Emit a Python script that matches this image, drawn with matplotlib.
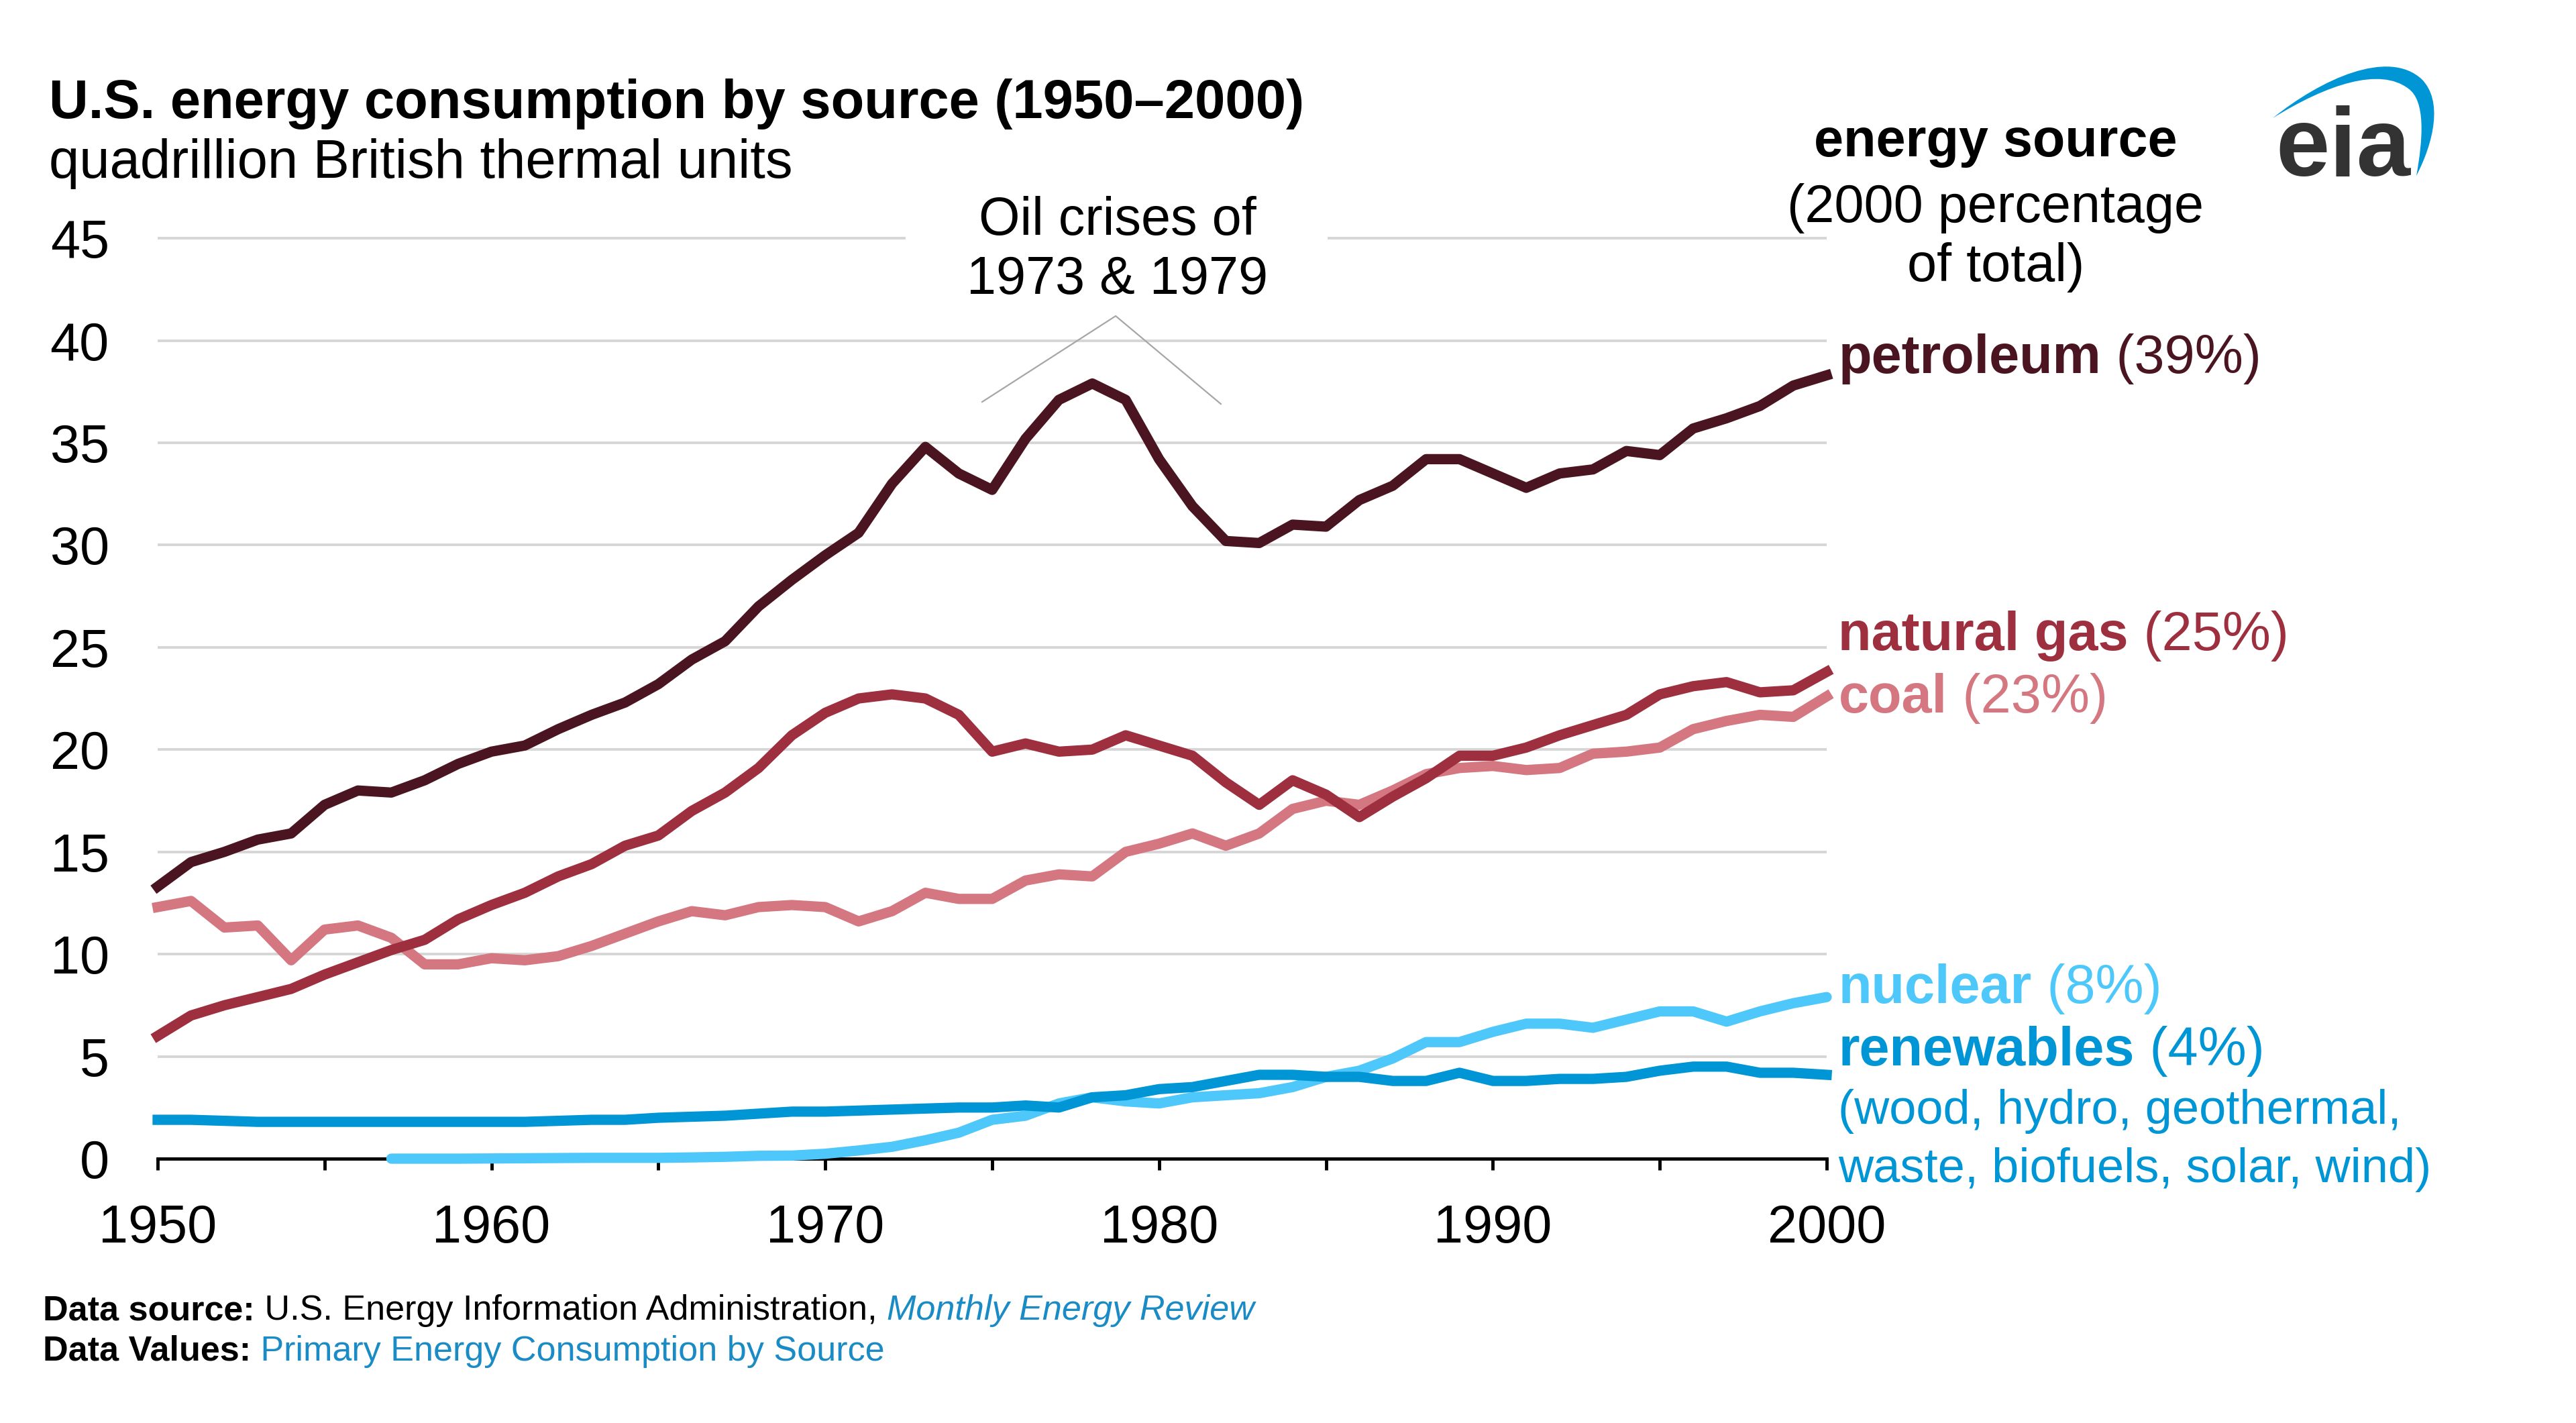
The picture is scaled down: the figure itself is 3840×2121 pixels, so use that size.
"""U.S. energy consumption by source, 1950-2000 (EIA style line chart)."""

import matplotlib.pyplot as plt
from matplotlib import transforms
from matplotlib.patches import PathPatch, Rectangle
from matplotlib.path import Path

plt.rcParams['font.family'] = ['Liberation Sans', 'DejaVu Sans']

W, H = 3840, 2121

years = list(range(1950, 2001))
nuclear_years = list(range(1957, 2001))

petroleum = [13.3, 14.5, 15.0, 15.6, 15.9, 17.3, 18.0, 17.9, 18.5, 19.3,
             19.9, 20.2, 21.0, 21.7, 22.3, 23.2, 24.4, 25.3, 27.0, 28.3,
             29.5, 30.6, 33.0, 34.8, 33.5, 32.7, 35.2, 37.1, 37.9, 37.1,
             34.2, 31.9, 30.2, 30.1, 31.0, 30.9, 32.2, 32.9, 34.2, 34.2,
             33.5, 32.8, 33.5, 33.7, 34.6, 34.4, 35.7, 36.2, 36.8, 37.8,
             38.3]
natural_gas = [6.0, 7.0, 7.5, 7.9, 8.3, 9.0, 9.6, 10.2, 10.7, 11.7,
               12.4, 13.0, 13.8, 14.4, 15.3, 15.8, 17.0, 17.9, 19.1, 20.7,
               21.8, 22.5, 22.7, 22.5, 21.7, 19.9, 20.3, 19.9, 20.0, 20.7,
               20.2, 19.7, 18.4, 17.3, 18.5, 17.8, 16.7, 17.7, 18.6, 19.7,
               19.7, 20.1, 20.7, 21.2, 21.7, 22.7, 23.1, 23.3, 22.8, 22.9,
               23.8]
coal = [12.3, 12.6, 11.3, 11.4, 9.7, 11.2, 11.4, 10.8, 9.5, 9.5,
        9.8, 9.7, 9.9, 10.4, 11.0, 11.6, 12.1, 11.9, 12.3, 12.4,
        12.3, 11.6, 12.1, 13.0, 12.7, 12.7, 13.6, 13.9, 13.8, 15.0,
        15.4, 15.9, 15.3, 15.9, 17.1, 17.5, 17.3, 18.0, 18.8, 19.1,
        19.2, 19.0, 19.1, 19.8, 19.9, 20.1, 21.0, 21.4, 21.7, 21.6,
        22.6]
nuclear = [0.0, 0.0, 0.0, 0.01, 0.02, 0.03, 0.04, 0.04, 0.04, 0.06,
           0.09, 0.14, 0.15,
           0.24, 0.4, 0.58, 0.9, 1.27, 1.9, 2.1, 2.7, 3.0, 2.8,
           2.7, 3.0, 3.1, 3.2, 3.5, 4.0, 4.3, 4.9, 5.7, 5.7,
           6.2, 6.6, 6.6, 6.4, 6.8, 7.2, 7.2, 6.7, 7.2, 7.6,
           7.9]
renewables = [1.9, 1.9, 1.85, 1.8, 1.8, 1.8, 1.8, 1.8, 1.8, 1.8,
              1.8, 1.8, 1.85, 1.9, 1.9, 2.0, 2.05, 2.1, 2.2, 2.3,
              2.3, 2.35, 2.4, 2.45, 2.5, 2.5, 2.6, 2.5, 3.0, 3.1,
              3.4, 3.5, 3.8, 4.1, 4.1, 4.0, 4.0, 3.8, 3.8, 4.2,
              3.8, 3.8, 3.9, 3.9, 4.0, 4.3, 4.5, 4.5, 4.2, 4.2,
              4.1]

# label text: (name, share, colour, label baseline in data units)
labels = [
    ('petroleum', '(39%)', '#4a1520', 38.4),
    ('natural gas', '(25%)', '#9e2f3e', 24.85),
    ('coal', '(23%)', '#d47780', 21.8),
    ('nuclear', '(8%)', '#4ec8fa', 7.6),
    ('renewables', '(4%)', '#0096d6', 4.55),
]
renew_note = ['(wood, hydro, geothermal,', 'waste, biofuels, solar, wind)']
renew_note_y = [1.7, -1.15]

crisis_x = [1974.7, 1978.7, 1981.85]
crisis_y = [37.0, 41.2, 36.9]

FS = 57


def rich(ax, x, y, parts, transform, **kw):
    """Place text parts one after another on the same line."""
    first_text, first_style = parts[0]
    prev = ax.text(x, y, first_text, transform=transform, va='baseline',
                   ha='left', clip_on=False, **kw, **first_style)
    for text, style in parts[1:]:
        prev = ax.annotate(text, xy=(1, 0), xycoords=prev, va='bottom',
                           ha='left', annotation_clip=False, **kw, **style)
    return prev


fig = plt.figure(figsize=(W / 100, H / 100), dpi=100)
ax_bottom, ax_top = 1727, 346
ax = fig.add_axes([235 / W, 1 - ax_bottom / H, (2723 - 235) / W,
                   (ax_bottom - ax_top) / H])

LW = 11
ax.plot(years, coal, color='#d47780', lw=LW, zorder=3, clip_on=False)
ax.plot(years, natural_gas, color='#9e2f3e', lw=LW, zorder=4, clip_on=False)
ax.plot(years, petroleum, color='#4a1520', lw=LW, zorder=5, clip_on=False)
ax.plot(nuclear_years, nuclear, color='#4ec8fa', lw=LW, zorder=6,
        clip_on=False, solid_capstyle='round')
ax.plot(years, renewables, color='#0096d6', lw=LW, zorder=7, clip_on=False)

ax.set_xlim(1950, 2000)
ax.set_ylim(0, 45.3)
ax.set_yticks(range(0, 50, 5))
ax.set_xticks(range(1950, 2001, 5))
ax.set_xticklabels([str(y) if y % 10 == 0 else '' for y in range(1950, 2001, 5)])
ax.tick_params(axis='y', length=0, pad=52, labelsize=FS)
ax.tick_params(axis='x', length=12, width=3.5, pad=36, labelsize=FS,
               direction='out', color='black')
for side in ['top', 'right', 'left']:
    ax.spines[side].set_visible(False)
ax.spines['bottom'].set_linewidth(3.5)
ax.spines['bottom'].set_zorder(2.5)
ax.set_axisbelow(True)
ax.yaxis.grid(True, color='#d6d6d6', linewidth=2.8)

# annotation for the oil crises
ax.add_patch(Rectangle((1972.4, 43.6), 12.65, 2.4, facecolor='white',
                       edgecolor='none', zorder=1.5, clip_on=False))
ax.text(1978.75, 44.4, 'Oil crises of\n1973 & 1979', ha='center', va='center',
        fontsize=FS, linespacing=1.22, zorder=8, clip_on=False)
ax.plot(crisis_x, crisis_y, color='#a6a6a6', lw=1.6, zorder=2, clip_on=False)

# right-hand labels
for name, share, color, ly in labels:
    rich(ax, 2000.35, ly, [(name, {'fontweight': 'bold'}), (' ' + share, {})],
         ax.transData, fontsize=FS + 1.4, color=color)
for line, ly in zip(renew_note, renew_note_y):
    ax.text(2000.35, ly, line, fontsize=FS - 5, color='#0096d6', va='baseline',
            ha='left', clip_on=False)

# header
fig.text(73 / W, 1 - 176 / H, 'U.S. energy consumption by source (1950\u20132000)',
         fontsize=FS + 1.6, fontweight='bold', va='baseline')
fig.text(73 / W, 1 - 265 / H, 'quadrillion British thermal units',
         fontsize=FS + 1.6, va='baseline')
fig.text(2975 / W, 1 - 233 / H, 'energy source', fontsize=FS, fontweight='bold',
         ha='center', va='baseline')
fig.text(2975 / W, 1 - 331 / H, '(2000 percentage', fontsize=FS,
         ha='center', va='baseline')
fig.text(2975 / W, 1 - 419 / H, 'of total)', fontsize=FS,
         ha='center', va='baseline')

# eia logo
fig.text(3392 / W, 1 - 262 / H, 'eia', fontsize=104, fontweight='bold',
         color='#333333', ha='left', va='baseline')
px_to_fig = transforms.Affine2D().scale(1 / W, -1 / H).translate(0, 1) + fig.transFigure
swoosh = Path(
    [(3388, 176), (3460, 118), (3560, 72), (3610, 118),
     (3642, 150), (3628, 212), (3602, 262),
     (3612, 208), (3616, 150), (3590, 132),
     (3548, 100), (3470, 125), (3388, 176), (3388, 176)],
    [Path.MOVETO, Path.CURVE4, Path.CURVE4, Path.CURVE4,
     Path.CURVE4, Path.CURVE4, Path.CURVE4,
     Path.CURVE4, Path.CURVE4, Path.CURVE4,
     Path.CURVE4, Path.CURVE4, Path.CURVE4, Path.CLOSEPOLY])
fig.add_artist(PathPatch(swoosh, facecolor='#0096d6', edgecolor='none',
                         transform=px_to_fig))

# footer
fig_tr = fig.transFigure
rich(ax, 64 / W, 1 - 1967 / H,
     [('Data source:', {'fontweight': 'bold', 'color': 'black'}),
      (' U.S. Energy Information Administration, ', {'color': 'black'}),
      ('Monthly Energy Review', {'style': 'italic', 'color': '#1a8bc4'})],
     fig_tr, fontsize=37.5)
rich(ax, 64 / W, 1 - 2028 / H,
     [('Data Values:', {'fontweight': 'bold', 'color': 'black'}),
      (' Primary Energy Consumption by Source', {'color': '#1a8bc4'})],
     fig_tr, fontsize=37.5)

fig.savefig('out.png', dpi=100, facecolor='white')
